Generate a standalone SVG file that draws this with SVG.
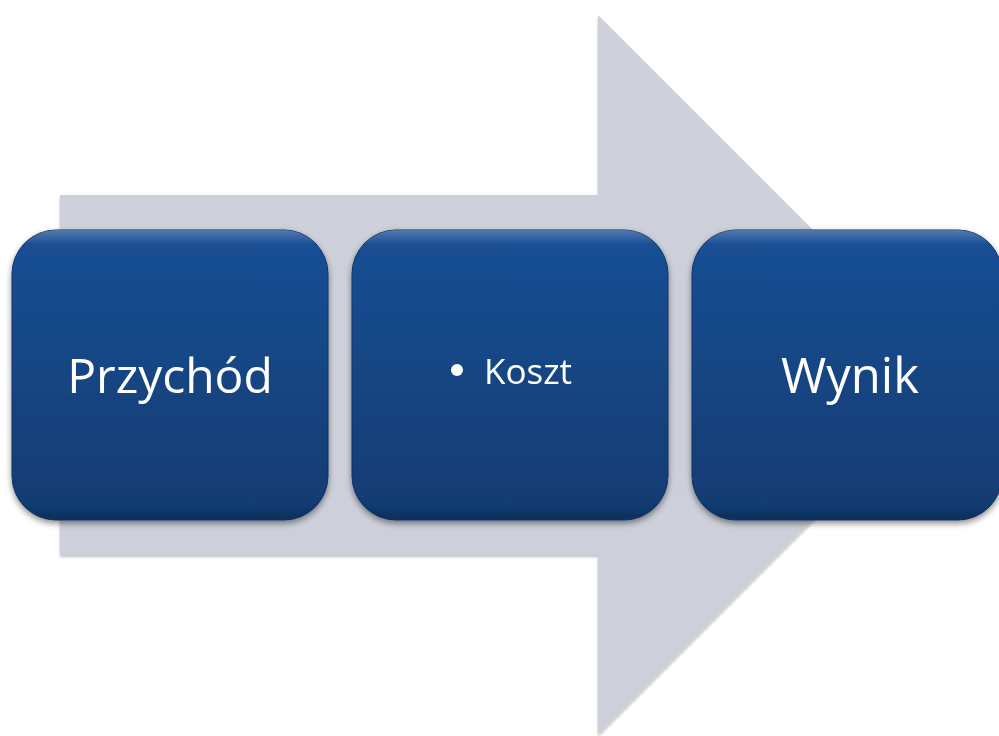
<svg xmlns="http://www.w3.org/2000/svg" width="999" height="736" viewBox="0 0 999 736">
<defs>
<linearGradient id="boxg" x1="0" y1="0" x2="0" y2="1">
<stop offset="0" stop-color="#1a5096"/>
<stop offset="1" stop-color="#113a70"/>
</linearGradient>
<linearGradient id="bevel" x1="0" y1="0" x2="0" y2="1">
<stop offset="0" stop-color="#ffffff" stop-opacity="0.25"/>
<stop offset="0.05" stop-color="#ffffff" stop-opacity="0"/>
<stop offset="0.95" stop-color="#000000" stop-opacity="0"/>
<stop offset="1" stop-color="#000000" stop-opacity="0.2"/>
</linearGradient>
<filter id="sh" x="-10%" y="-10%" width="120%" height="130%">
<feGaussianBlur in="SourceAlpha" stdDeviation="3"/>
<feOffset dx="0" dy="3" result="b"/>
<feComponentTransfer><feFuncA type="linear" slope="0.45"/></feComponentTransfer>
<feMerge><feMergeNode/><feMergeNode in="SourceGraphic"/></feMerge>
</filter>
<filter id="ash" x="-5%" y="-5%" width="110%" height="110%">
<feGaussianBlur in="SourceAlpha" stdDeviation="1.5"/>
<feOffset dx="0" dy="2" result="b"/>
<feComponentTransfer><feFuncA type="linear" slope="0.25"/></feComponentTransfer>
<feMerge><feMergeNode/><feMergeNode in="SourceGraphic"/></feMerge>
</filter>
</defs>
<style>
.box{fill:url(#boxg);stroke:#0f3566;stroke-width:1}
.bev{fill:url(#bevel)}
.lbl{font-family:"Open Sans","Liberation Sans",sans-serif;fill:#ffffff;text-anchor:middle}
</style>
<rect width="999" height="736" fill="#ffffff"/>
<g id="arrow" filter="url(#ash)">
<polygon points="60,195 598,195 598,15 958,375 598,735 598,555 60,555" fill="#cdd0da"/>
</g>
<g id="node-przychod" filter="url(#sh)">
<rect class="box" x="12" y="230" width="316" height="290" rx="44" ry="44"/>
<rect class="bev" x="12" y="230" width="316" height="290" rx="44" ry="44"/>
<text class="lbl" x="170" y="393" font-size="48">Przychód</text>
</g>
<g id="node-koszt" filter="url(#sh)">
<rect class="box" x="352" y="230" width="316" height="290" rx="44" ry="44"/>
<rect class="bev" x="352" y="230" width="316" height="290" rx="44" ry="44"/>
<circle cx="457" cy="370" r="6" fill="#ffffff"/>
<text class="lbl" x="528" y="384" font-size="35">Koszt</text>
</g>
<g id="node-wynik" filter="url(#sh)">
<rect class="box" x="692" y="230" width="310" height="290" rx="44" ry="44"/>
<rect class="bev" x="692" y="230" width="310" height="290" rx="44" ry="44"/>
<text class="lbl" x="850" y="393" font-size="49">Wynik</text>
</g>
<g id="connectors"></g>
</svg>
